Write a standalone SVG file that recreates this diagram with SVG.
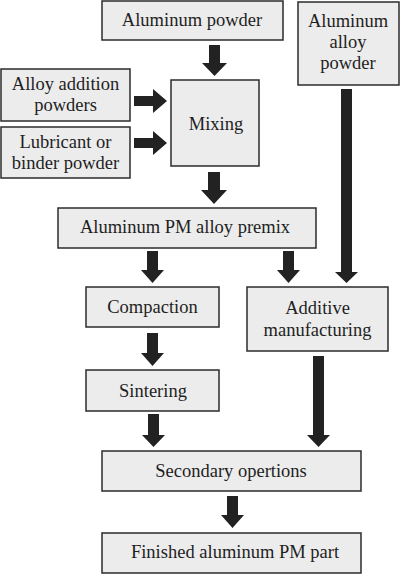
<svg xmlns="http://www.w3.org/2000/svg" width="400" height="574" viewBox="0 0 400 574">
<style>
.box{fill:#ececec;stroke:#2b2b2b;stroke-width:1.5}
.t{font-family:"Liberation Serif","Times New Roman",serif;font-size:18.5px;fill:#1e1e1e;text-anchor:middle}
.arr{fill:#222}
</style>
<rect width="400" height="574" fill="#fff"/>
<g id="connectors">
<path class="arr" d="M209,45 H220 V63 H227 L214.5,76 L202,63 H209 Z"/>
<path class="arr" d="M134,96 H153 V89 L167,101 L153,113 V106 H134 Z"/>
<path class="arr" d="M134,138 H153 V131 L167,143 L153,155 V148 H134 Z"/>
<path class="arr" d="M208,172 H220 V190 H227 L214,204 L201,190 H208 Z"/>
<path class="arr" d="M147,251 H158 V270 H164 L152.5,283 L141,270 H147 Z"/>
<path class="arr" d="M283,251 H294 V270 H300 L288.5,283 L277,270 H283 Z"/>
<path class="arr" d="M341,89 H352 V272 H358 L346.5,283 L335,272 H341 Z"/>
<path class="arr" d="M147,333 H158 V353 H164 L152.5,366 L141,353 H147 Z"/>
<path class="arr" d="M148,414 H159 V435 H165 L153.5,447 L142,435 H148 Z"/>
<path class="arr" d="M313,356 H324 V435 H330 L318.5,447 L307,435 H313 Z"/>
<path class="arr" d="M227,496 H238 V515 H244 L232.5,528 L221,515 H227 Z"/>
</g>
<g id="aluminum-powder"><rect class="box" x="102" y="1" width="181" height="39"/><text class="t" x="192" y="26">Aluminum powder</text></g>
<g id="aluminum-alloy-powder"><rect class="box" x="298" y="2" width="101" height="83"/><text class="t" x="348" y="27">Aluminum</text><text class="t" x="348" y="48">alloy</text><text class="t" x="348" y="69">powder</text></g>
<g id="alloy-addition-powders"><rect class="box" x="1" y="69" width="129" height="52"/><text class="t" x="65.5" y="90">Alloy addition</text><text class="t" x="65.5" y="111">powders</text></g>
<g id="lubricant"><rect class="box" x="1" y="127" width="129" height="51"/><text class="t" x="65.5" y="148">Lubricant or</text><text class="t" x="65.5" y="169">binder powder</text></g>
<g id="mixing"><rect class="box" x="171" y="80" width="88" height="86"/><text class="t" x="216" y="130">Mixing</text></g>
<g id="premix"><rect class="box" x="58" y="208" width="258" height="40"/><text class="t" x="185" y="233">Aluminum PM alloy premix</text></g>
<g id="compaction"><rect class="box" x="86" y="287" width="133" height="40"/><text class="t" x="152.5" y="313">Compaction</text></g>
<g id="additive-manufacturing"><rect class="box" x="247" y="287" width="141" height="64"/><text class="t" x="317.5" y="314">Additive</text><text class="t" x="317.5" y="336">manufacturing</text></g>
<g id="sintering"><rect class="box" x="86" y="370" width="133" height="41"/><text class="t" x="153" y="397">Sintering</text></g>
<g id="secondary"><rect class="box" x="102" y="451" width="259" height="40"/><text class="t" x="231" y="477">Secondary opertions</text></g>
<g id="finished"><rect class="box" x="102" y="533" width="259" height="40"/><text class="t" x="235" y="558">Finished aluminum PM part</text></g>
</svg>
